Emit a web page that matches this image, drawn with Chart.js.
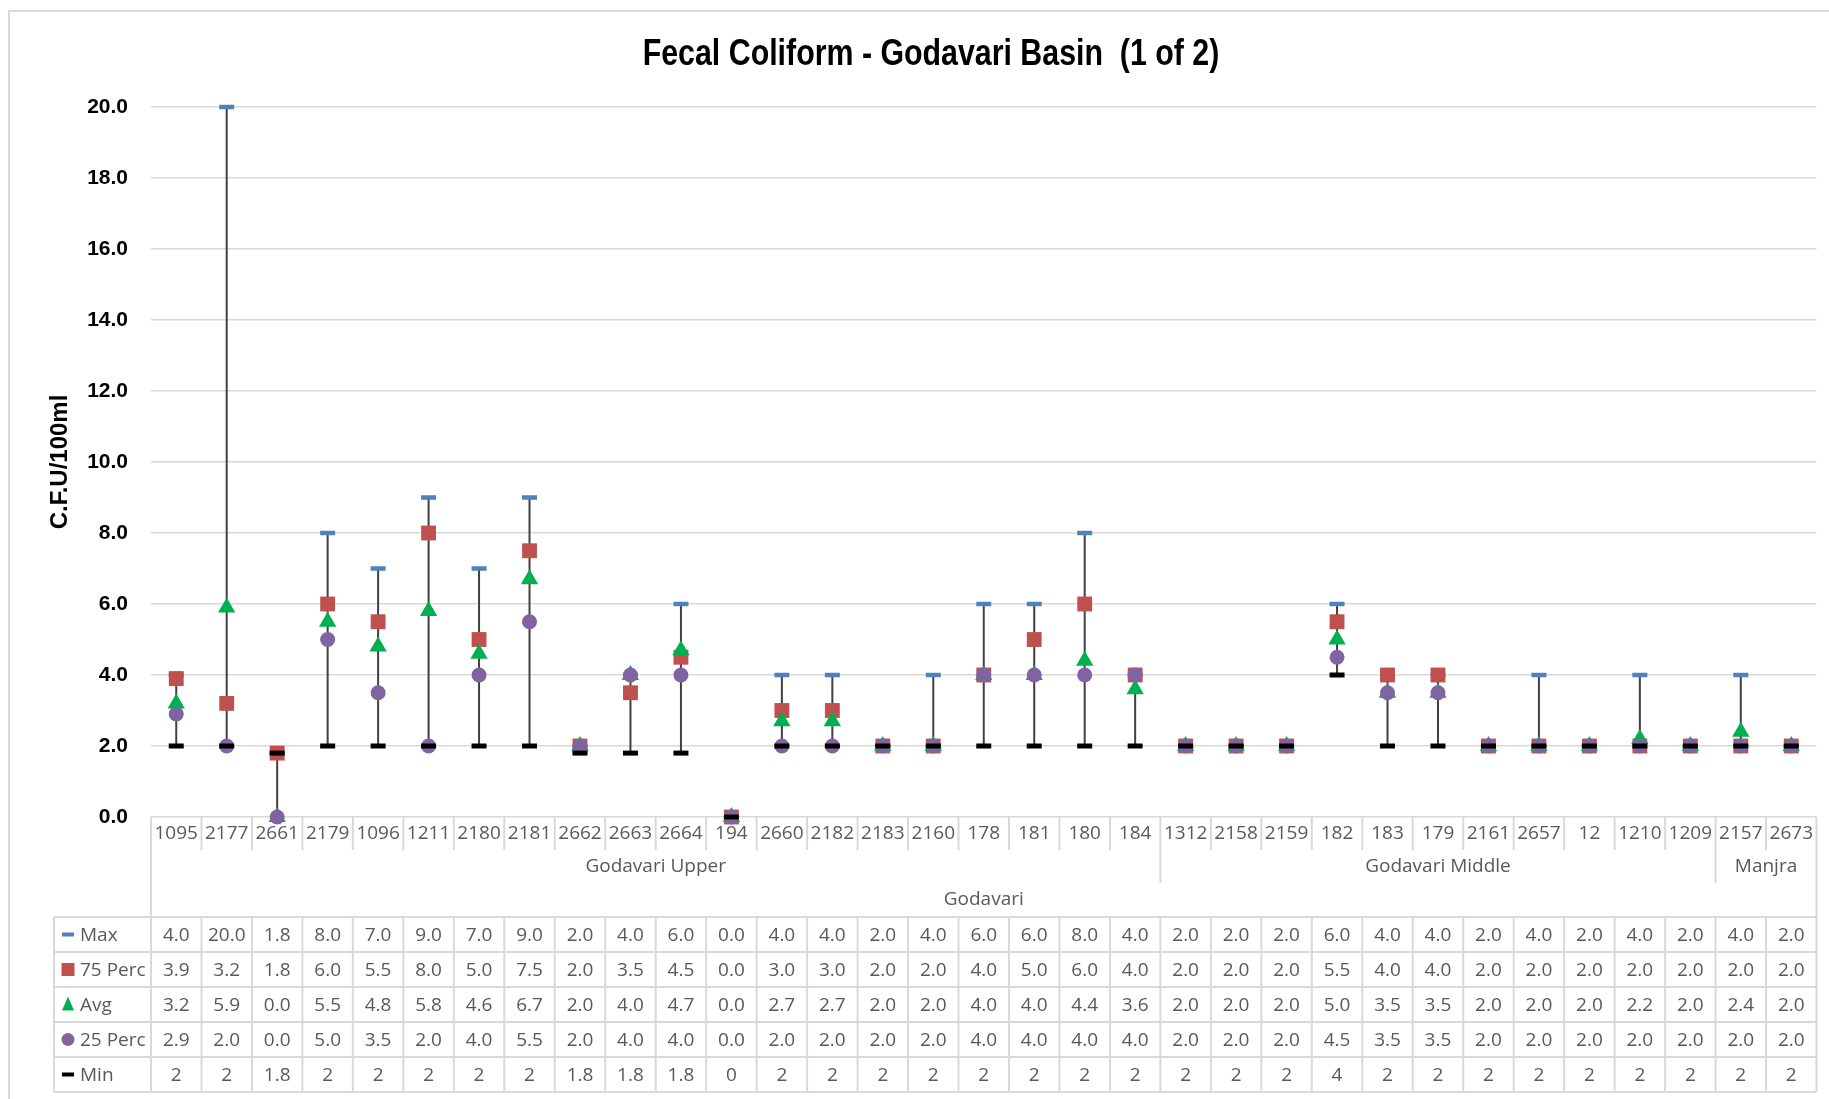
<!DOCTYPE html>
<html>
<head>
<meta charset="utf-8">
<title>Fecal Coliform - Godavari Basin (1 of 2)</title>
<script src="https://cdn.jsdelivr.net/npm/chart.js@4.4.1/dist/chart.umd.min.js"></script>
<style>
    html, body { margin: 0; padding: 0; background: #ffffff; }
    canvas { display: block; }
</style>
</head>
<body>
<canvas id="ChartCanvas" width="1829" height="1099"></canvas>
<script>
// Stations (x categories) and their grouping
const stations = ['1095', '2177', '2661', '2179', '1096', '1211', '2180', '2181', '2662', '2663', '2664', '194', '2660', '2182', '2183', '2160', '178', '181', '180', '184',
                  '1312', '2158', '2159', '182', '183', '179', '2161', '2657', '12', '1210', '1209', '2157', '2673'];
const subBasins = ['Godavari Upper', 'Godavari Middle', 'Manjra'];
const subBasinCounts = [20, 11, 2];
const basinName = 'Godavari';

// Series values
const maxValues    = [4.0, 20.0, 1.8, 8.0, 7.0, 9.0, 7.0, 9.0, 2.0, 4.0, 6.0, 0.0, 4.0, 4.0, 2.0, 4.0, 6.0, 6.0, 8.0, 4.0, 2.0, 2.0, 2.0, 6.0, 4.0, 4.0, 2.0, 4.0, 2.0, 4.0, 2.0, 4.0, 2.0];
const perc75Values = [3.9, 3.2, 1.8, 6.0, 5.5, 8.0, 5.0, 7.5, 2.0, 3.5, 4.5, 0.0, 3.0, 3.0, 2.0, 2.0, 4.0, 5.0, 6.0, 4.0, 2.0, 2.0, 2.0, 5.5, 4.0, 4.0, 2.0, 2.0, 2.0, 2.0, 2.0, 2.0, 2.0];
const avgValues    = [3.2, 5.9, 0.0, 5.5, 4.8, 5.8, 4.6, 6.7, 2.0, 4.0, 4.7, 0.0, 2.7, 2.7, 2.0, 2.0, 4.0, 4.0, 4.4, 3.6, 2.0, 2.0, 2.0, 5.0, 3.5, 3.5, 2.0, 2.0, 2.0, 2.2, 2.0, 2.4, 2.0];
const perc25Values = [2.9, 2.0, 0.0, 5.0, 3.5, 2.0, 4.0, 5.5, 2.0, 4.0, 4.0, 0.0, 2.0, 2.0, 2.0, 2.0, 4.0, 4.0, 4.0, 4.0, 2.0, 2.0, 2.0, 4.5, 3.5, 3.5, 2.0, 2.0, 2.0, 2.0, 2.0, 2.0, 2.0];
const minValues    = [2, 2, 1.8, 2, 2, 2, 2, 2, 1.8, 1.8, 1.8, 0, 2, 2, 2, 2, 2, 2, 2, 2, 2, 2, 2, 4, 2, 2, 2, 2, 2, 2, 2, 2, 2];

// Y axis tick labels
const yTickLabels = ['0.0', '2.0', '4.0', '6.0', '8.0', '10.0', '12.0', '14.0', '16.0', '18.0', '20.0'];

const ARIAL = "'Liberation Sans', Arial, sans-serif";
const TABLE_FONT = "'Open Sans', 'Liberation Sans', sans-serif";
const GRID_COLOR = '#D9D9D9';
const TEXT_COLOR = '#595959';

// Rows of the data table under the chart
const tableRows =
[
    { label: 'Max',     values: maxValues,    color: '#4F81BD', marker: 'dash',     format: v => v.toFixed(1) },
    { label: '75 Perc', values: perc75Values, color: '#C0504D', marker: 'square',   format: v => v.toFixed(1) },
    { label: 'Avg',     values: avgValues,    color: '#00B050', marker: 'triangle', format: v => v.toFixed(1) },
    { label: '25 Perc', values: perc25Values, color: '#8064A2', marker: 'circle',   format: v => v.toFixed(1) },
    { label: 'Min',     values: minValues,    color: '#000000', marker: 'dash',     format: v => String(v) }
];

// Light grey frame and chart title
const chartFrame =
{
    id: 'chartFrame',
    beforeDraw(chart)
    {
        const ctx = chart.ctx;
        ctx.save();
        ctx.strokeStyle = GRID_COLOR;
        ctx.lineWidth = 2;
        ctx.beginPath();
        ctx.moveTo(9, chart.height + 5);
        ctx.lineTo(9, 11);
        ctx.lineTo(chart.width + 5, 11);
        ctx.stroke();
        ctx.restore();
    },
    afterDraw(chart)
    {
        // Arial Narrow look: squeeze a bold sans horizontally
        const ctx = chart.ctx;
        ctx.save();
        ctx.translate(931, 65);
        ctx.scale(0.82, 1);
        ctx.fillStyle = '#000000';
        ctx.font = 'bold 37px ' + ARIAL;
        ctx.textAlign = 'center';
        ctx.textBaseline = 'alphabetic';
        ctx.fillText('Fecal Coliform - Godavari Basin  (1 of 2)', 0, 0);
        ctx.restore();
    }
};

// Vertical line from the highest to the lowest value of each station
const highLowLines =
{
    id: 'highLowLines',
    beforeDatasetsDraw(chart)
    {
        const ctx = chart.ctx;
        const xScale = chart.scales.x;
        const yScale = chart.scales.y;
        ctx.save();
        ctx.strokeStyle = '#404040';
        ctx.lineWidth = 2;
        for (let i = 0; i < stations.length; i++)
        {
            const values = tableRows.map(r => r.values[i]);
            const hi = Math.max(...values);
            const lo = Math.min(...values);
            if (hi === lo) continue;
            const x = xScale.getPixelForValue(i);
            ctx.beginPath();
            ctx.moveTo(x, yScale.getPixelForValue(hi));
            ctx.lineTo(x, yScale.getPixelForValue(lo));
            ctx.stroke();
        }
        ctx.restore();
    }
};

// Multi-level category labels and the data table
const dataTable =
{
    id: 'dataTable',
    afterDraw(chart)
    {
        const ctx = chart.ctx;
        const xScale = chart.scales.x;
        const area = chart.chartArea;
        const step = xScale.getPixelForValue(1) - xScale.getPixelForValue(0);
        const left = xScale.getPixelForValue(0) - step / 2;
        const right = left + step * stations.length;

        const top = area.bottom;
        const stationBottom = top + 33;
        const groupBottom = top + 66;
        const tableTop = top + 100;
        const rowH = 35;
        const tableBottom = tableTop + rowH * tableRows.length;
        const legendLeft = 54;

        const edge = i => left + i * step;

        ctx.save();
        ctx.strokeStyle = GRID_COLOR;
        ctx.lineWidth = 2;
        ctx.beginPath();

        // station separators
        for (let i = 1; i < stations.length; i++)
        {
            ctx.moveTo(edge(i), top);
            ctx.lineTo(edge(i), stationBottom);
        }
        // outer edges of the label block
        ctx.moveTo(left, top);
        ctx.lineTo(left, tableTop);
        ctx.moveTo(right, top);
        ctx.lineTo(right, tableBottom);

        // sub basin separators
        let acc = 0;
        for (let g = 0; g < subBasinCounts.length - 1; g++)
        {
            acc += subBasinCounts[g];
            ctx.moveTo(edge(acc), stationBottom);
            ctx.lineTo(edge(acc), groupBottom);
        }

        // table rows
        for (let r = 0; r <= tableRows.length; r++)
        {
            const y = tableTop + r * rowH;
            ctx.moveTo(legendLeft, y);
            ctx.lineTo(right, y);
        }
        // table columns
        ctx.moveTo(legendLeft, tableTop);
        ctx.lineTo(legendLeft, tableBottom);
        for (let i = 0; i <= stations.length; i++)
        {
            ctx.moveTo(edge(i), tableTop);
            ctx.lineTo(edge(i), tableBottom);
        }
        ctx.stroke();

        // texts
        ctx.fillStyle = TEXT_COLOR;
        ctx.font = '19px ' + TABLE_FONT;
        ctx.textAlign = 'center';
        ctx.textBaseline = 'middle';

        for (let i = 0; i < stations.length; i++)
        {
            ctx.fillText(stations[i], xScale.getPixelForValue(i), top + 17);
        }

        acc = 0;
        for (let g = 0; g < subBasins.length; g++)
        {
            const mid = edge(acc + subBasinCounts[g] / 2);
            ctx.fillText(subBasins[g], mid, stationBottom + 17);
            acc += subBasinCounts[g];
        }
        ctx.fillText(basinName, (left + right) / 2, groupBottom + 17);

        tableRows.forEach((row, r) =>
        {
            const cy = tableTop + r * rowH + rowH / 2;
            for (let i = 0; i < stations.length; i++)
            {
                ctx.fillText(row.format(row.values[i]), xScale.getPixelForValue(i), cy + 1);
            }
            DrawLegendMarker(ctx, row, 68, cy);
            ctx.fillStyle = TEXT_COLOR;
            ctx.textAlign = 'left';
            ctx.fillText(row.label, 80, cy + 1);
            ctx.textAlign = 'center';
        });

        ctx.restore();
    }
};

function DrawLegendMarker(ctx, row, x, y)
{
    ctx.fillStyle = row.color;
    ctx.beginPath();
    if (row.marker === 'dash')
    {
        ctx.rect(x - 6, y - 2, 12, 4);
    }
    else if (row.marker === 'square')
    {
        ctx.rect(x - 6.5, y - 6.5, 13, 13);
    }
    else if (row.marker === 'triangle')
    {
        ctx.moveTo(x, y - 8);
        ctx.lineTo(x + 6, y + 6);
        ctx.lineTo(x - 6, y + 6);
        ctx.closePath();
    }
    else
    {
        ctx.arc(x, y, 6.5, 0, Math.PI * 2);
    }
    ctx.fill();
}

function MakeDataset(label, values, color, style, radius, borderWidth, order)
{
    return {
        label: label,
        data: values,
        showLine: false,
        clip: false,
        order: order,
        pointStyle: style,
        pointRadius: radius,
        pointHoverRadius: radius,
        pointBackgroundColor: color,
        pointBorderColor: color,
        pointBorderWidth: borderWidth,
        backgroundColor: color,
        borderColor: color
    };
}

function Initialize()
{
    const ctx = document.getElementById('ChartCanvas').getContext('2d');

    new Chart(ctx,
    {
        type: 'line',
        data:
        {
            labels: stations,
            datasets:
            [
                MakeDataset('Max', maxValues, '#4F81BD', 'line', 7.5, 4.5, 5),
                MakeDataset('75 Perc', perc75Values, '#C0504D', 'rect', 10.5, 0, 4),
                MakeDataset('Avg', avgValues, '#00B050', 'triangle', 10, 0, 3),
                MakeDataset('25 Perc', perc25Values, '#8064A2', 'circle', 7.5, 0, 2),
                MakeDataset('Min', minValues, '#000000', 'line', 7.5, 5, 1)
            ]
        },
        options:
        {
            responsive: false,
            animation: false,
            layout:
            {
                padding: { top: 107, right: 1, bottom: 282, left: 0 }
            },
            plugins:
            {
                legend: { display: false },
                tooltip: { enabled: false }
            },
            scales:
            {
                x:
                {
                    display: false,
                    offset: true
                },
                y:
                {
                    min: 0,
                    max: 20,
                    border: { display: false },
                    grid:
                    {
                        color: GRID_COLOR,
                        lineWidth: 1.5,
                        drawTicks: false
                    },
                    ticks:
                    {
                        stepSize: 2,
                        padding: 23,
                        color: '#000000',
                        font: { family: ARIAL, size: 21, weight: 'bold' },
                        callback: (value, index) => yTickLabels[index]
                    },
                    title:
                    {
                        display: true,
                        text: 'C.F.U/100ml',
                        color: '#000000',
                        font: { family: ARIAL, size: 24, weight: 'bold' },
                        padding: { top: 46, bottom: 0 }
                    },
                    afterFit: scale => { scale.width = 151; }
                }
            }
        },
        plugins: [chartFrame, highLowLines, dataTable]
    });
}

Initialize();
</script>
</body>
</html>
